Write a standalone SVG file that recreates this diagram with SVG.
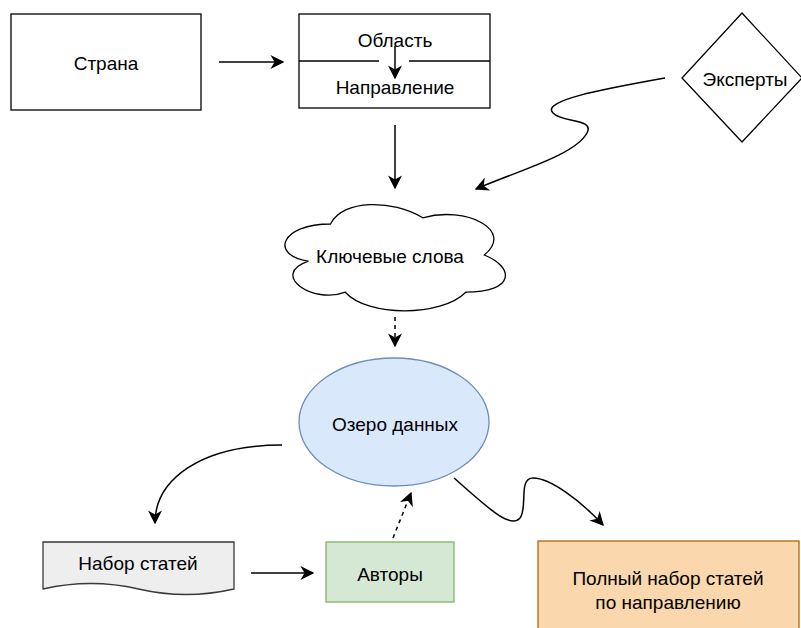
<svg xmlns="http://www.w3.org/2000/svg" width="801" height="628" viewBox="0 0 801 628">
<defs>
<marker id="ahb" viewBox="0 0 10 10" refX="9" refY="5" markerWidth="14" markerHeight="14" markerUnits="userSpaceOnUse" orient="auto">
<path d="M0,0 L10,5 L0,10 L3,5 Z" fill="#000"/>
</marker>
</defs>
<style>
text{font-family:"Liberation Sans",Arial,sans-serif;font-size:19px;fill:#000;text-anchor:middle;dominant-baseline:central}
.n{fill:#fff;stroke:#000;stroke-width:1.3}
.e{fill:none;stroke:#000;stroke-width:1.5}
.d{stroke-dasharray:4 4}
</style>
<rect width="801" height="628" fill="#fff"/>
<g id="strana"><rect class="n" x="11" y="14" width="190" height="96"/><text x="106" y="63">Страна</text></g>
<g id="oblast"><rect class="n" x="299" y="14" width="191" height="94"/>
<path d="M299,61 H379 M409,61 H490" stroke="#000" stroke-width="1.3" fill="none"/>
<text x="395" y="40">Область</text><text x="395" y="87">Направление</text></g>
<g id="eksperty"><polygon class="n" points="742,13 802,78 742,142 682,78"/><text x="745" y="79">Эксперты</text></g>
<g id="klyuch"><path class="n" d="M330.5,224 C281.2,224 269,255 308.4,261.2 C269,274.8 313.3,304.6 345.3,292.2 C367.4,317 441.2,317 465.8,292.2 C515,292.2 515,267.4 484.3,255 C515,230.2 465.8,205.4 422.8,217.8 C392,199.2 342.8,199.2 330.5,224 Z"/><text x="390" y="256">Ключевые слова</text></g>
<g id="ozero"><ellipse cx="394" cy="422" rx="95" ry="64" fill="#dae8fc" stroke="#6c8ebf" stroke-width="1.3"/><text x="395" y="424">Озеро данных</text></g>
<g id="nabor"><path d="M43,542 H234 V589 Q186,600 138.5,589 Q91,578 43,589 Z" fill="#eeeeee" stroke="#36393d" stroke-width="1.3"/><text x="138" y="563">Набор статей</text></g>
<g id="avtory"><rect x="326" y="542" width="128" height="60" fill="#d5e8d4" stroke="#82b366" stroke-width="1.3"/><text x="390" y="574">Авторы</text></g>
<g id="polny"><rect x="538" y="541" width="261" height="90" fill="#fad7ac" stroke="#b46504" stroke-width="1.3"/><text x="668" y="578">Полный набор статей</text><text x="668" y="602">по направлению</text></g>
<g id="connectors">
<path class="e" d="M219,62 H283" marker-end="url(#ahb)"/>
<path class="e" d="M395,46 V78" marker-end="url(#ahb)"/>
<path class="e" d="M395,125 V188" marker-end="url(#ahb)"/>
<path class="e" d="M665,78 C610,88 540,100 553,113 C562,123 595,118 587,133 C575,155 520,170 476,189" marker-end="url(#ahb)"/>
<path class="e d" d="M395,317 V346" marker-end="url(#ahb)"/>
<path class="e" d="M282,445 C200,445 155,480 155,523" marker-end="url(#ahb)"/>
<path class="e" d="M251,573 H313" marker-end="url(#ahb)"/>
<path class="e d" d="M393,538 L411,493" marker-end="url(#ahb)"/>
<path class="e" d="M454,478 C485,505 510,530 520,518 C528,508 518,478 533,478 C550,478 580,500 603,525" marker-end="url(#ahb)"/>
</g>
</svg>
